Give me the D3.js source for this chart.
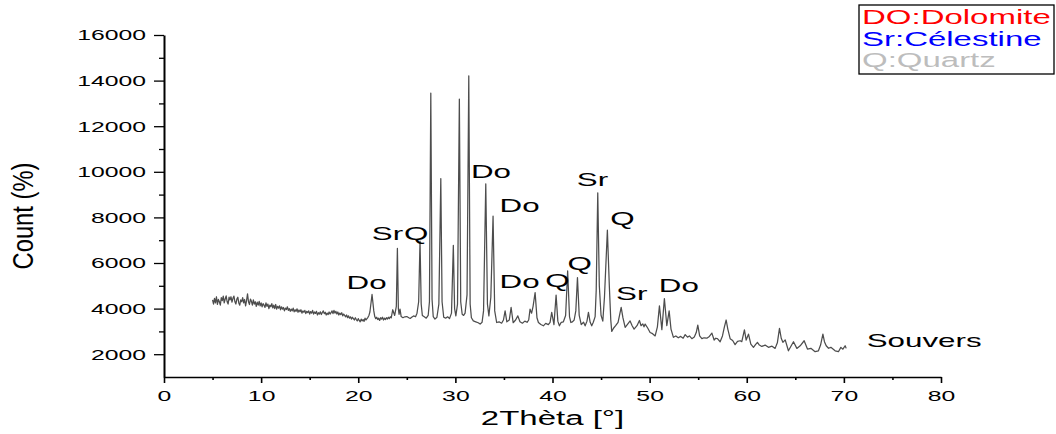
<!DOCTYPE html>
<html><head><meta charset="utf-8">
<script src="https://cdn.jsdelivr.net/npm/d3@7"></script>
<style>body{margin:0;background:#fff} svg{display:block}</style>
</head><body><svg id="c" width="1056" height="434"></svg>
<script>
// XRD pattern: [2θ, count]
const pattern = [
[5.0,4380],[5.1,4200],[5.2,4450],[5.3,4250],[5.4,4520],[5.5,4180],[5.6,4400],[5.7,4300],[5.8,4150],[5.9,4480],
[6.0,4350],[6.1,4550],[6.2,4250],[6.3,4420],[6.4,4560],[6.5,4300],[6.6,4200],[6.7,4500],[6.8,4380],[6.9,4520],
[7.0,4280],[7.1,4450],[7.2,4550],[7.3,4300],[7.4,4200],[7.5,4420],[7.6,4500],[7.7,4250],[7.8,4150],[7.9,4380],
[8.0,4300],[8.1,4480],[8.2,4250],[8.3,4400],[8.4,4120],[8.5,4350],[8.6,4650],[8.7,4300],[8.8,4180],[8.9,4420],
[9.0,4320],[9.1,4150],[9.2,4380],[9.3,4200],[9.4,4300],[9.5,4100],[9.6,4280],[9.7,4150],[9.8,4320],[9.9,4120],
[10.0,4250],[10.1,4080],[10.2,4220],[10.3,4150],[10.4,4050],[10.5,4250],[10.6,4100],[10.7,4200],[10.8,4000],[10.9,4150],
[11.0,4080],[11.1,4220],[11.2,4030],[11.3,4150],[11.4,4000],[11.5,4180],[11.6,3980],[11.7,4100],[11.8,4020],[11.9,4120],
[12.0,3950],[12.1,4080],[12.2,3980],[12.3,4050],[12.4,3900],[12.5,4020],[12.6,3960],[12.7,4080],[12.8,3920],[12.9,4000],
[13.0,3880],[13.1,3980],[13.2,3900],[13.3,4020],[13.4,3860],[13.5,3950],[13.6,3880],[13.7,3990],[13.8,3840],[13.9,3940],
[14.0,3860],[14.1,3950],[14.2,3800],[14.3,3900],[14.4,3840],[14.5,3920],[14.6,3780],[14.7,3880],[14.8,3820],[14.9,3900],
[15.0,3760],[15.1,3870],[15.2,3800],[15.3,3920],[15.4,3760],[15.5,3850],[15.6,3790],[15.7,3880],[15.8,3720],[15.9,3820],
[16.0,3760],[16.1,3860],[16.2,3740],[16.3,3830],[16.4,3900],[16.5,3780],[16.6,3840],[16.7,3720],[16.8,3800],[16.9,3740],
[17.0,3850],[17.1,3760],[17.2,3820],[17.3,3900],[17.4,3780],[17.5,3920],[17.6,3800],[17.7,3880],[17.8,3760],[17.9,3850],
[18.0,3720],[18.1,3800],[18.2,3740],[18.3,3820],[18.4,3680],[18.5,3760],[18.6,3700],[18.7,3640],[18.8,3720],[18.9,3600],
[19.0,3680],[19.1,3580],[19.2,3640],[19.3,3540],[19.4,3620],[19.5,3560],[19.6,3500],[19.7,3600],[19.8,3520],[19.9,3460],
[20.0,3560],[20.1,3480],[20.2,3420],[20.3,3540],[20.4,3460],[20.5,3520],[20.6,3440],[20.7,3580],[20.8,3500],[20.9,3560],
[21.0,3620],[21.1,3700],[21.2,3850],[21.42,4620],[21.6,3900],[21.7,3650],[21.8,3560],[21.9,3620],[22.0,3520],[22.1,3580],
[22.2,3480],[22.3,3600],[22.4,3540],[22.5,3620],[22.6,3500],[22.7,3580],[22.8,3520],[22.9,3600],[23.0,3540],[23.1,3620],
[23.2,3560],[23.3,3640],[23.4,3600],[23.55,3950],[23.75,3700],[23.92,4100],[24.03,6640],[24.13,4000],[24.2,3750],[24.3,3980],
[24.42,3650],[24.6,3600],[24.8,3640],[25.0,3650],[25.2,3600],[25.35,3570],[25.5,3620],[25.7,3680],[25.9,3640],[26.05,3800],
[26.22,4300],[26.36,6960],[26.48,4200],[26.6,3700],[26.8,3640],[27.0,3580],[27.2,3700],[27.33,4300],[27.47,13456],[27.6,4400],
[27.72,3650],[27.9,3540],[28.1,3620],[28.3,4200],[28.5,9706],[28.63,4300],[28.8,3620],[29.0,3580],[29.2,3640],[29.4,3560],
[29.6,3800],[29.79,6775],[29.92,4000],[30.05,3680],[30.22,4200],[30.41,13190],[30.55,4300],[30.7,3750],[30.85,3700],[31.0,3800],
[31.2,4600],[31.38,14212],[31.52,4200],[31.65,3600],[31.85,3460],[32.1,3420],[32.35,3380],[32.55,3320],[32.75,3400],[32.9,3900],
[33.13,9474],[33.3,4200],[33.45,3680],[33.65,4500],[33.88,8056],[34.05,3900],[34.25,3390],[34.5,3420],[34.76,3360],[34.95,3500],
[35.12,3900],[35.3,3420],[35.55,3500],[35.74,4050],[35.95,3380],[36.2,3500],[36.43,3680],[36.65,3420],[36.9,3360],[37.15,3450],
[37.38,3400],[37.55,3500],[37.69,3975],[37.85,3800],[38.0,4100],[38.21,4700],[38.4,3600],[38.55,3390],[38.8,3300],[39.06,3245],
[39.3,3350],[39.57,3300],[39.75,3400],[39.92,3830],[40.15,3300],[40.37,4590],[40.55,3450],[40.71,3245],[40.9,3400],[41.12,3420],
[41.35,3700],[41.56,5650],[41.75,3650],[41.89,3390],[42.05,3420],[42.23,3500],[42.4,3900],[42.57,5360],[42.75,3700],[42.96,3300],
[43.2,3400],[43.36,3245],[43.55,3450],[43.7,3830],[43.88,3400],[44.04,3245],[44.2,3400],[44.39,3650],[44.5,4800],[44.66,9080],
[44.82,5000],[45.0,3700],[45.18,3450],[45.35,4500],[45.65,7440],[45.85,5000],[46.0,3500],[46.1,3000],[46.3,3150],[46.5,3250],
[46.75,3400],[46.9,3700],[47.07,4050],[47.25,3600],[47.48,3175],[47.7,3300],[47.99,3460],[48.2,3250],[48.4,3100],[48.7,3250],
[48.95,3480],[49.12,3250],[49.3,3330],[49.42,3200],[49.54,3320],[49.8,3150],[50.05,2950],[50.3,2900],[50.57,2800],[50.8,3200],
[51.01,4120],[51.26,3080],[51.52,4440],[51.77,3250],[52.01,3900],[52.2,3100],[52.45,2740],[52.7,2800],[52.95,2720],[53.2,2780],
[53.45,2700],[53.66,2860],[53.9,2750],[54.1,2800],[54.35,2680],[54.6,2750],[54.8,2950],[54.96,3275],[55.15,2800],[55.38,2680],
[55.6,2720],[55.89,2700],[56.15,2780],[56.41,2925],[56.64,2620],[56.8,2700],[56.98,2680],[57.26,2545],[57.5,2800],[57.7,3200],
[57.88,3500],[58.05,3100],[58.29,2680],[58.55,2600],[58.8,2420],[59.05,2560],[59.32,2590],[59.49,2550],[59.76,3070],[59.94,2620],
[60.18,2880],[60.42,2440],[60.69,2300],[60.9,2420],[61.1,2520],[61.3,2400],[61.55,2340],[61.89,2400],[62.23,2300],[62.6,2350],
[62.92,2255],[63.15,2500],[63.37,3130],[63.55,2700],[63.72,2520],[63.96,2630],[64.29,2150],[64.55,2350],[64.81,2545],[65.16,2255],
[65.5,2370],[65.91,2590],[66.25,2225],[66.6,2260],[67.04,2110],[67.38,2150],[67.6,2400],[67.84,2880],[68.0,2550],[68.18,2370],
[68.42,2260],[68.66,2300],[69.1,2150],[69.44,2110],[69.69,2300],[69.9,2220],[70.13,2370],[70.24,2255]
];

const annLabels = ["Do","Sr","Q","Do","Do","Do","Q","Q","Sr","Q","Sr","Do"];
const annTheta  = [18.8,21.4,24.7,31.6,34.55,34.55,39.25,41.55,42.5,45.95,46.55,50.95];
const annCount  = [4860,7009,7009,9728,8250,4904,4947,5693,9377,7667,4377,4728];

const sampleName = "Souvers";
const sampleTheta = 72.35, sampleCount = 2329;

const legendLabels = ["DO:Dolomite","Sr:Célestine","Q:Quartz"];
const legendColors = ["#ff0000","#0000ff","#bdbdbd"];

const xMajor = [0,10,20,30,40,50,60,70,80];
const xMinor = [5,15,25,35,45,55,65,75];
const yMajor = [2000,4000,6000,8000,10000,12000,14000,16000];
const yMinor = [3000,5000,7000,9000,11000,13000,15000];
const xTitle = "2Thèta [°]";
const yTitle = "Count (%)";

const FONT = '"Liberation Sans", Arial, Helvetica, sans-serif';
const SX = 1.65;

const svg = d3.select("#c");
const x = d3.scaleLinear().domain([0,80]).range([164,941]);
const y = d3.scaleLinear().domain([1000,16000]).range([377,35]);

// line
svg.append("path").datum(pattern)
  .attr("fill","none").attr("stroke","#4d4d4d").attr("stroke-width",1.25)
  .attr("stroke-linejoin","round")
  .attr("d", d3.line().x(d=>x(d[0])).y(d=>y(d[1])));

// X axis
const gx = svg.append("g").attr("transform",`translate(0,${y(1000)})`)
  .call(d3.axisBottom(x).tickValues(xMajor).tickSize(6).tickSizeOuter(0).tickFormat(d3.format("d")))
  .attr("font-family",FONT).attr("font-size",15);
gx.select(".domain").attr("stroke","#000").attr("stroke-width",1.3);
gx.selectAll(".tick line").attr("stroke","#000").attr("stroke-width",1.6);
gx.selectAll(".tick text").attr("y",null).attr("dy","0.71em").attr("fill","#000")
  .attr("transform",`translate(0,13) scale(${SX},1)`);
const gxm = svg.append("g").attr("transform",`translate(0,${y(1000)})`)
  .call(d3.axisBottom(x).tickValues(xMinor).tickSize(3).tickSizeOuter(0).tickFormat(""));
gxm.select(".domain").remove();
gxm.selectAll(".tick line").attr("stroke","#000").attr("stroke-width",1.6);

// Y axis
const gy = svg.append("g").attr("transform",`translate(${x(0)},0)`)
  .call(d3.axisLeft(y).tickValues(yMajor).tickSize(10).tickSizeOuter(0).tickFormat(d3.format("d")))
  .attr("font-family",FONT).attr("font-size",15);
gy.select(".domain").attr("stroke","#000").attr("stroke-width",2);
gy.selectAll(".tick line").attr("stroke","#000").attr("stroke-width",1.3);
gy.selectAll(".tick text").attr("x",null).attr("dy","0.32em").attr("fill","#000")
  .attr("transform",`translate(-18,0) scale(${SX},1)`);
const gym = svg.append("g").attr("transform",`translate(${x(0)},0)`)
  .call(d3.axisLeft(y).tickValues(yMinor).tickSize(5).tickSizeOuter(0).tickFormat(""));
gym.select(".domain").remove();
gym.selectAll(".tick line").attr("stroke","#000").attr("stroke-width",1.3);

// titles
svg.append("text").text(xTitle).attr("font-family",FONT).attr("font-size",20)
  .attr("text-anchor","middle").attr("fill","#000")
  .attr("transform",`translate(${(x(0)+x(80))/2},425) scale(${SX},1)`);
svg.append("text").text(yTitle).attr("font-family",FONT).attr("font-size",22)
  .attr("text-anchor","middle").attr("fill","#000")
  .attr("textLength",107).attr("lengthAdjust","spacingAndGlyphs")
  .attr("transform",`translate(33,${(y(1000)+y(16000))/2+10}) scale(1.3,1) rotate(-90)`);

// annotations
annLabels.forEach((t,i)=>{
  svg.append("text").text(t).attr("font-family",FONT).attr("font-size",19).attr("fill","#000")
    .attr("transform",`translate(${x(annTheta[i])},${y(annCount[i])}) scale(${SX},1)`);
});
svg.append("text").text(sampleName).attr("font-family",FONT).attr("font-size",19).attr("fill","#000")
  .attr("transform",`translate(${x(sampleTheta)},${y(sampleCount)}) scale(${SX},1)`);

// legend
const lg = svg.append("g");
lg.append("rect").attr("x",859).attr("y",5).attr("width",195).attr("height",69)
  .attr("fill","#fff").attr("stroke","#000").attr("stroke-width",1.3);
legendLabels.forEach((t,i)=>{
  lg.append("text").text(t).attr("font-family",FONT).attr("font-size",20).attr("fill",legendColors[i])
    .attr("transform",`translate(862,${24+i*21.5}) scale(${SX},1)`);
});
</script></body></html>
